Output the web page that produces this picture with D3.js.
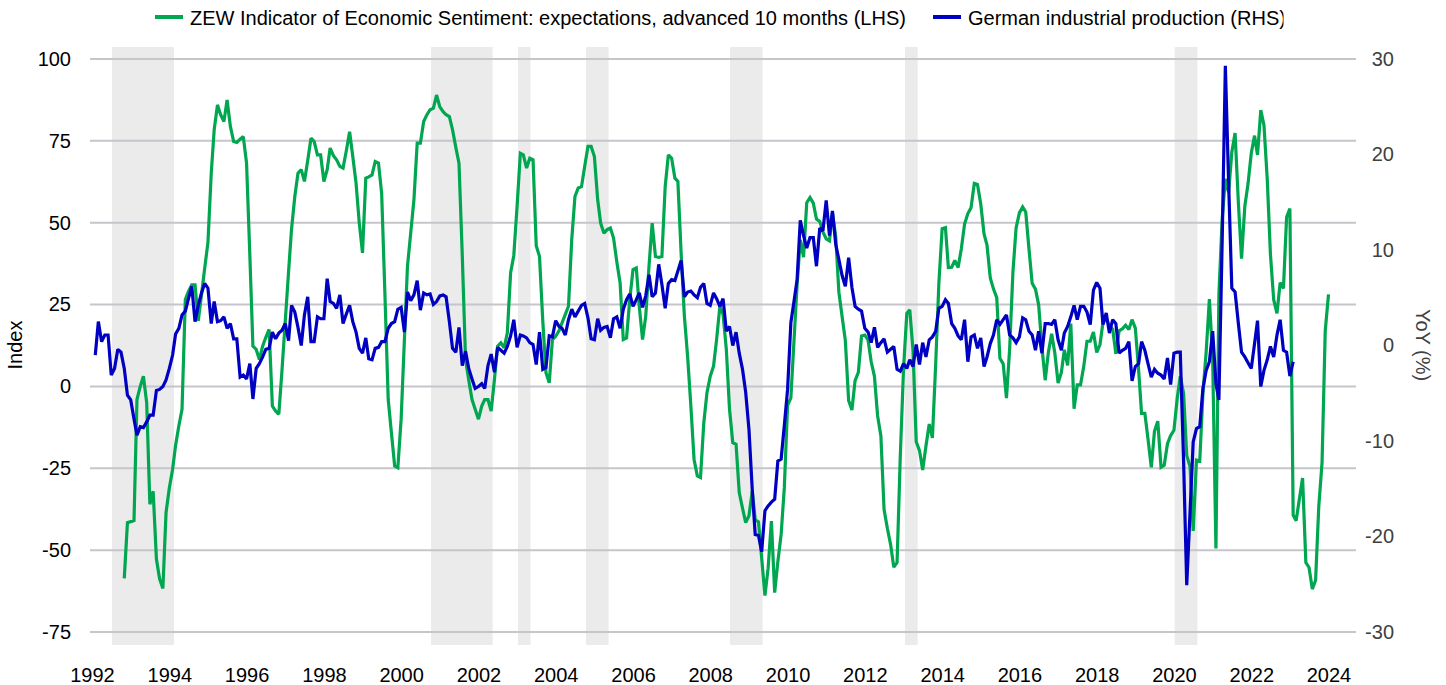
<!DOCTYPE html>
<html>
<head>
<meta charset="utf-8">
<script src="https://cdn.jsdelivr.net/npm/d3@7"></script>
<style>
  html, body { margin: 0; padding: 0; background: #fff; }
  svg { display: block; font-family: "Liberation Sans", Arial, sans-serif; }
</style>
</head>
<body>
<svg id="chart" width="1446" height="685"></svg>
<script>
// ZEW expectations, monthly, first value = Dec 1991 (plotted 10 months ahead)
var zewFirstMonth = [1991, 11];
var zewLead = 10;
var zewValues = [
  -58.6,
  -41.6, -41.3, -41, -4, 0, 3.1, -5, -36, -32, -52.7, -58.8, -61.7,
  -38.5, -31, -25.3, -18, -12, -7, 26.5, 29, 31, 31, 20, 28,
  36, 44, 65, 78.4, 86, 83, 80.9, 87.5, 79.4, 74.8, 74.5, 75.5,
  76.3, 68.2, 40, 12.3, 11.3, 8.2, 12.3, 15, 17.4, -6, -7.5, -8.5,
  5, 20, 35, 48, 58, 65.1, 66.2, 62.6, 69, 75.8, 74.8, 70.7,
  70.7, 62.6, 66.2, 72.8, 70.5, 69.2, 67.2, 66.7, 72, 77.8, 70.2, 62.1,
  50, 40.8, 63.6, 64, 64.6, 68.7, 68.2, 59, 28, -4, -14.1, -24.3,
  -24.8, -10, 14.3, 36.7, 47, 57, 74.3, 74.3, 80.9, 83, 84.5, 85,
  89, 85.4, 83.9, 83, 82.4, 78.4, 73, 68.2, 40, 8.2, 2, -4,
  -7, -10, -6, -4, -4, -7.5, 2.1, 12.3, 13.3, 11.8, 16.4, 34.7,
  40, 55, 71.2, 70.7, 66.7, 69.7, 69.2, 43, 39.7, 20, 4.2, 1.1,
  14.3, 15.3, 17, 19.4, 22, 24.5, 45, 58, 60.6, 61, 67.2, 73.3,
  73.3, 70.2, 57, 49.9, 46.8, 47.9, 48.4, 45.3, 38, 31.6, 14.3, 14.8,
  26.5, 35.7, 36.2, 24.5, 14.3, 21.4, 36.7, 49.9, 39.7, 39.4, 39.7, 61,
  70.7, 69.7, 63.6, 62.6, 40.5, 21.7, 9.2, -5.6, -22.3, -27.3, -27.8, -11.1,
  -1.9, 3.1, 6.2, 14.3, 24.5, 22, 11.3, -6.9, -17.2, -17.7, -32.4, -37.2,
  -41.6, -39.5, -32.0, -40.7, -41.4, -52.4, -63.9, -55.5, -41.1, -63.0, -53.5, -45.2,
  -31.0, -5.8, -3.5, 13.0, 31.1, 44.8, 39.5, 56.1, 57.7, 56.0, 51.1, 50.4,
  47.2, 45.1, 44.5, 53.0, 45.8, 28.7, 21.2, 14.0, -4.3, -7.2, 1.8, 4.3,
  15.4, 15.7, 14.1, 7.6, 3.1, -9.0, -15.1, -37.6, -43.3, -48.3, -55.2, -53.8,
  -21.6, 5.4, 22.3, 23.4, 10.8, -16.9, -19.6, -25.5, -18.2, -11.5, -15.7, 6.9,
  31.5, 48.2, 48.5, 36.3, 36.4, 38.5, 36.3, 42.0, 49.6, 52.8, 54.6, 62.0,
  61.7, 55.7, 46.6, 43.2, 33.1, 29.8, 27.1, 8.6, 6.9, -3.6, 11.5, 34.9,
  48.4, 53.0, 54.8, 53.3, 41.9, 31.5, 29.7, 25.0, 12.1, 1.9, 10.4, 16.1,
  10.2, 1.0, 4.3, 11.2, 6.4, 19.2, -6.8, 0.5, 0.5, 6.2, 13.8, 13.8,
  16.6, 10.4, 12.8, 19.5, 20.6, 18.6, 17.5, 10.0, 17.0, 17.6, 18.7, 17.4,
  20.4, 17.8, 5.1, -8.2, -8.2, -16.1, -24.7, -13.7, -10.6, -24.7, -24.1, -17.5,
  -15.0, -13.4, -3.6, 3.1, -2.1, -21.1, -24.5, -44.1, -22.5, -22.8, -2.1, 10.7,
  26.7, 8.7, -49.5, 28.2, 51.0, 63.4, 59.3, 71.5, 77.4, 56.1, 39.0, 55.0,
  61.8, 71.2, 76.6, 70.7, 84.4, 79.8, 63.3, 40.4, 26.5, 22.3, 31.7, 29.9,
  51.7, 54.3, -39.3, -41.0, -34.3, -28.0, -53.8, -55.3, -61.9, -59.2, -36.7, -23.3,
  16.9, 28.1
];

// German industrial production, % YoY, monthly from Jan 1992
var ipFirstMonth = [1992, 0];
var ipValues = [
  -1.0, 2.5, 0.4, 1.1, 1.1, -3.1, -2.4, -0.4, -0.7, -2.4, -5.2, -5.7,
  -7.7, -9.4, -8.5, -8.6, -8.0, -7.3, -7.3, -4.7, -4.6, -4.3, -3.6, -2.4,
  -1.0, 1.2, 1.8, 3.2, 3.6, 4.9, 6.2, 2.5, 4.2, 5.5, 6.5, 6.0,
  2.3, 4.6, 2.5, 2.6, 3.0, 1.8, 2.3, 0.7, 0.7, -3.3, -3.1, -3.5,
  -1.9, -5.6, -2.4, -1.9, -1.2, -0.4, -0.3, 1.4, 0.7, 1.3, 1.6, 2.3,
  0.5, 4.2, 3.5, 1.9, 0.0, 3.2, 5.1, 0.4, 0.4, 3.0, 2.8, 2.8,
  7.0, 4.6, 4.4, 3.9, 5.3, 2.3, 3.3, 4.2, 2.5, 1.4, -0.3, -0.8,
  0.8, -1.4, -1.5, -0.3, -0.2, 0.4, 0.4, 1.8, 2.3, 2.5, 3.8, 4.0,
  1.4, 5.6, 4.7, 5.3, 6.8, 3.7, 5.5, 5.3, 5.4, 4.3, 4.6, 5.2,
  5.3, 5.1, 2.5, -0.3, -0.7, 1.9, -2.1, -0.6, -2.4, -3.5, -4.5, -4.3,
  -4.0, -4.5, -2.1, -0.9, -2.8, -0.2, -0.5, -0.8, -0.1, 1.0, 2.7, -0.2,
  1.1, 1.0, 0.8, 0.3, 0.1, -2.0, 1.4, -2.5, -2.3, 1.0, 0.9, 2.6,
  2.0, 1.8, 1.1, 2.7, 3.8, 3.0, 3.6, 4.2, 4.4, 2.9, 0.7, 0.6,
  2.8, 1.6, 1.9, 2.0, 0.8, 2.8, 3.0, 1.8, 3.8, 4.8, 5.4, 4.1,
  4.8, 5.5, 4.0, 5.2, 7.4, 5.1, 5.5, 8.5, 6.4, 3.9, 6.5, 6.9,
  6.8, 7.8, 8.9, 5.1, 5.6, 5.7, 5.3, 5.0, 6.1, 6.5, 4.4, 4.2,
  5.5, 4.9, 4.1, 4.9, 1.5, 2.0, 0.0, 1.4, -0.8, -2.5, -4.9, -8.8,
  -15.1, -19.8, -19.9, -21.6, -17.3, -16.8, -16.4, -16.1, -12.1, -11.9, -8.4, -4.6,
  2.4, 4.5, 6.9, 13.1, 11.5, 10.2, 11.3, 11.3, 8.3, 12.3, 12.0, 15.2,
  11.5, 14.1, 10.6, 9.0, 7.3, 6.2, 9.2, 6.1, 4.1, 3.8, 3.6, 1.8,
  1.4, 0.3, 1.9, -0.2, 0.3, 0.7, -0.7, -0.4, -0.1, -2.5, -2.7, -1.9,
  -2.4, -1.5, -2.2, 0.1, -2.0, 0.3, -1.2, 0.6, 0.9, 1.5, 3.9, 4.1,
  4.8, 4.4, 2.3, 1.8, 1.0, 0.6, 2.7, -1.7, 0.9, 1.1, -0.3, 0.8,
  -2.2, -1.2, 0.2, 1.1, 2.7, 2.2, 2.7, 3.2, 1.1, 0.8, 0.3, 0.9,
  2.9, 2.7, 1.5, 1.1, -0.5, 1.5, -0.8, 2.3, 2.3, 2.2, 2.7, 0.6,
  -0.5, 1.3, 2.0, 3.0, 4.2, 2.7, 4.1, 4.1, 3.5, 2.2, 5.8, 6.6,
  6.0, 2.2, 3.4, 1.3, 2.7, 2.3, -0.8, -0.5, -0.3, 0.4, -3.7, -2.2,
  -1.9, 0.4, -0.5, -1.9, -3.3, -2.5, -2.9, -3.1, -3.5, -1.3, -4.1, -0.8,
  -0.7, -0.7, -12, -25.1, -17.5, -10.1, -8.7, -8.5, -4.5, -2.6, -1.7, 1.5,
  -4.0, -5.7, 11, 29.3, 17, 6.0, 5.6, 2.3, -0.7, -1.2, -1.8, -2.4,
  0.2, 2.6, -4.3, -2.6, -1.5, -0.1, -1.2, 1.1, 2.7, -0.5, -0.7, -3.2,
  -1.7
];

// shaded periods
var recessions = [
  ["1992-07-08", "1994-02-14"],
  ["2000-10-10", "2002-05-15"],
  ["2003-01-10", "2003-05-08"],
  ["2004-10-13", "2005-05-15"],
  ["2008-07-05", "2009-05-10"],
  ["2013-01-15", "2013-05-15"],
  ["2020-01-08", "2020-08-10"]
];

var leftTicks = [-75, -50, -25, 0, 25, 50, 75, 100];
var rightTicks = [-30, -20, -10, 0, 10, 20, 30];
var yearTicks = d3.range(1992, 2025, 2);
var legendNames = [
  "ZEW Indicator of Economic Sentiment: expectations, advanced 10 months (LHS)",
  "German industrial production (RHS)"
];

var green = "#00a650", blue = "#0000c2", gridCol = "#c6c5cc";
var plotLeft = 90, plotRight = 1356, plotTop = 59, plotBottom = 632;
var fontFam = "'Liberation Sans', Arial, sans-serif";
// plain hyphen for negatives, like the original
var numFmt = function(d) { return String(d); };

var svg = d3.select("#chart");

var x = d3.scaleUtc()
  .domain([new Date(Date.UTC(1992, 0, 1)), new Date(Date.UTC(2024, 0, 1))])
  .range([92, 1328.5]);
var yL = d3.scaleLinear().domain([-75, 100]).range([plotBottom, plotTop]);
var yR = d3.scaleLinear().domain([-30, 30]).range([plotBottom, plotTop]);

// points are dated at month end (= first of next month)
var zew = zewValues.map(function(v, k) {
  return { date: new Date(Date.UTC(zewFirstMonth[0], zewFirstMonth[1] + zewLead + k + 1, 1)), v: v };
});
var ip = ipValues.map(function(v, j) {
  return { date: new Date(Date.UTC(ipFirstMonth[0], ipFirstMonth[1] + j + 1, 1)), v: v };
});

// shaded bands
svg.append("g").selectAll("rect").data(recessions).enter().append("rect")
  .attr("x", function(d) { return x(new Date(d[0])); })
  .attr("width", function(d) { return x(new Date(d[1])) - x(new Date(d[0])); })
  .attr("y", 47)
  .attr("height", 645 - 47)
  .attr("fill", "#ebebeb");

// gridlines
svg.append("g").selectAll("line").data(leftTicks).enter().append("line")
  .attr("x1", plotLeft).attr("x2", plotRight)
  .attr("y1", function(d) { return yL(d); })
  .attr("y2", function(d) { return yL(d); })
  .attr("stroke", gridCol).attr("stroke-width", 2);

// left axis
var gL = svg.append("g").attr("transform", "translate(" + plotLeft + ",0)")
  .call(d3.axisLeft(yL).tickValues(leftTicks).tickFormat(numFmt).tickSize(0).tickPadding(19));
gL.select(".domain").remove();
gL.selectAll("text").attr("font-size", "20px").attr("fill", "#000").style("font-family", fontFam);

// right axis, labels right aligned
var gR = svg.append("g").attr("transform", "translate(" + plotRight + ",0)")
  .call(d3.axisRight(yR).tickValues(rightTicks).tickFormat(numFmt).tickSize(0));
gR.select(".domain").remove();
gR.selectAll("text").attr("x", 38).attr("text-anchor", "end")
  .attr("font-size", "20px").attr("fill", "#404040").style("font-family", fontFam);

// bottom axis
var gB = svg.append("g").attr("transform", "translate(0," + plotBottom + ")")
  .call(d3.axisBottom(x)
    .tickValues(yearTicks.map(function(y) { return new Date(Date.UTC(y, 0, 1)); }))
    .tickFormat(d3.utcFormat("%Y")).tickSize(0).tickPadding(36));
gB.select(".domain").remove();
gB.selectAll("text").attr("font-size", "20px").attr("fill", "#000").style("font-family", fontFam);

// axis titles
svg.append("text").attr("transform", "translate(21.5,345) rotate(-90)")
  .attr("text-anchor", "middle").attr("font-size", "20px").attr("fill", "#000")
  .text("Index");
svg.append("text").attr("transform", "translate(1415.5,345) rotate(90)")
  .attr("text-anchor", "middle").attr("font-size", "20px").attr("fill", "#404040")
  .text("YoY (%)");

// lines
var lineL = d3.line().x(function(d) { return x(d.date); }).y(function(d) { return yL(d.v); });
var lineR = d3.line().x(function(d) { return x(d.date); }).y(function(d) { return yR(d.v); });

svg.append("path").datum(zew).attr("d", lineL)
  .attr("fill", "none").attr("stroke", green).attr("stroke-width", 3.2)
  .attr("stroke-linejoin", "miter").attr("stroke-miterlimit", 2);
svg.append("path").datum(ip).attr("d", lineR)
  .attr("fill", "none").attr("stroke", blue).attr("stroke-width", 3.2)
  .attr("stroke-linejoin", "miter").attr("stroke-miterlimit", 2);

// legend (the original cuts the last character of the second entry)
svg.append("clipPath").attr("id", "legclip")
  .append("rect").attr("x", 0).attr("y", 0).attr("width", 1283.5).attr("height", 40);
var leg = svg.append("g").attr("clip-path", "url(#legclip)");
var legX = [155, 933];
var legCol = [green, blue];
legendNames.forEach(function(name, i) {
  leg.append("line").attr("x1", legX[i]).attr("x2", legX[i] + 28)
    .attr("y1", 17).attr("y2", 17)
    .attr("stroke", legCol[i]).attr("stroke-width", 4);
  leg.append("text").attr("x", legX[i] + 35).attr("y", 25)
    .attr("font-size", "20px").attr("fill", "#000").text(name);
});
</script>
</body>
</html>
